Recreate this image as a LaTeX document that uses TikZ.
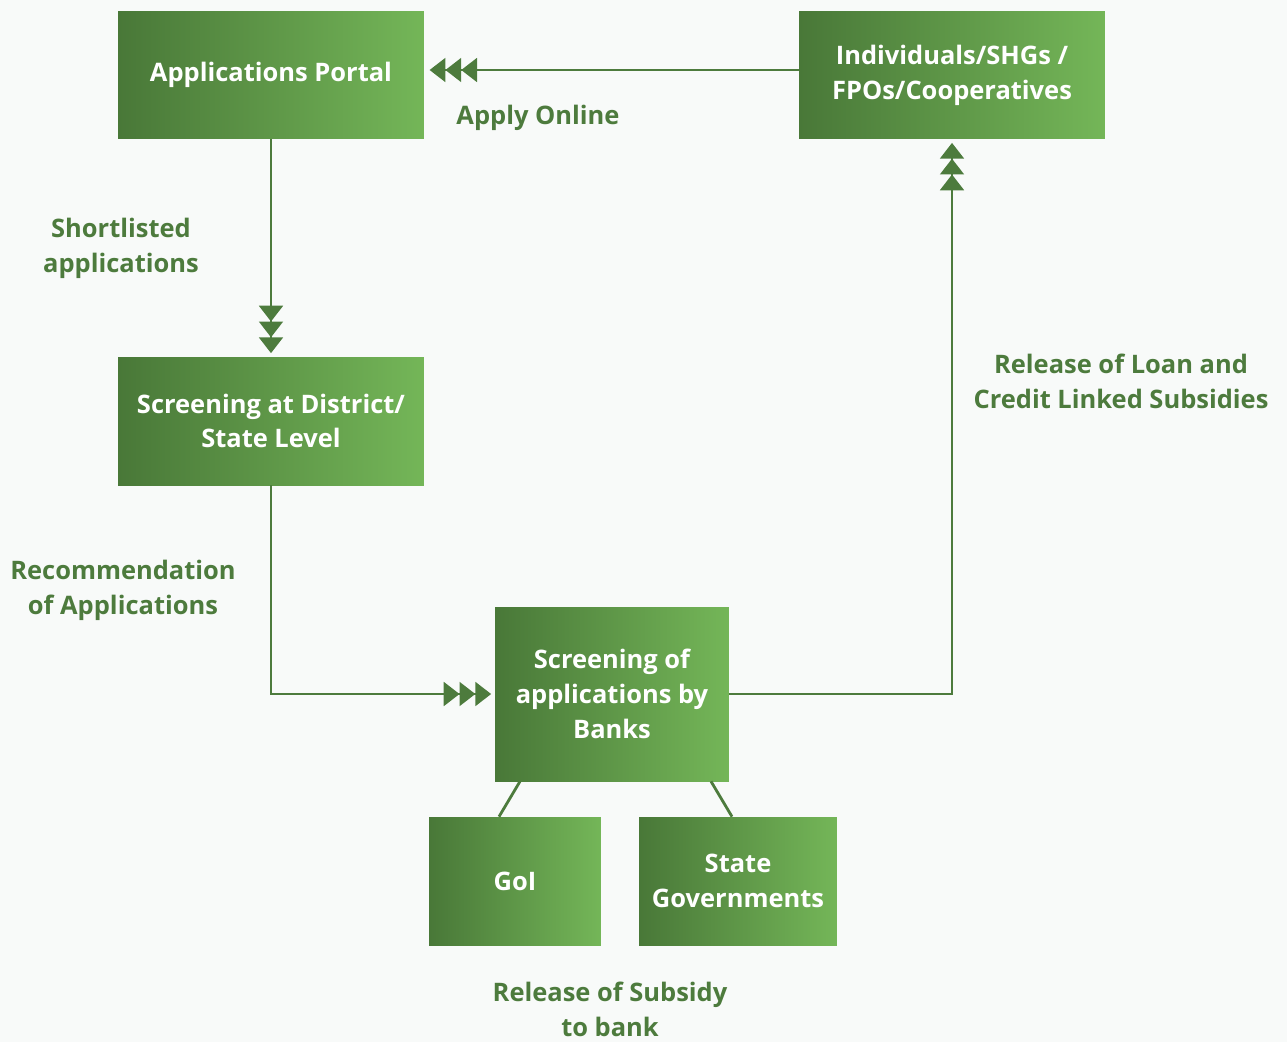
\documentclass[tikz,border=0pt]{standalone}
\usepackage{fontspec}
\setmainfont{Open Sans}
\usetikzlibrary{positioning,arrows.meta}
\definecolor{gdark}{HTML}{497838}
\definecolor{glight}{HTML}{74B658}
\definecolor{gline}{HTML}{4D7B3D}
\definecolor{bgc}{HTML}{F8FAF9}

\begin{document}
\begin{tikzpicture}[
          x=0.02cm,y=-0.02cm,
          font=\fontsize{14.5}{19.8}\selectfont\bfseries,
          box/.style={rectangle,left color=gdark,right color=glight,text=white,align=center,minimum height=2.56cm,inner sep=0pt},
          lbl/.style={text=gline,align=center},
          tri/.style={-{Triangle[length=9pt,width=13.5pt]Triangle[length=9pt,width=13.5pt]Triangle[length=9pt,width=13.5pt]}},
          flow/.style={draw=gline,line width=1.6pt,tri,shorten >=2pt},
          link/.style={draw=gline,line width=1.6pt}
            ]
    \fill[bgc] (0,0) rectangle (1287,1042);
    \useasboundingbox (0,0) rectangle (1287,1042);
    % boxes
    \node[box,minimum width=6.12cm] (portal) at (271,75) {Applications Portal};
    \node[box,minimum width=6.12cm] (indiv) at (952,75) {Individuals/SHGs /\\FPOs/Cooperatives};
    \node[box,minimum width=6.12cm] (district) at (271,421) {Screening at District/\\State Level};
    \node[box,minimum width=4.68cm,minimum height=3.48cm] (banks) at (612,694) {Screening of\\applications by\\Banks};
    \node[box,minimum width=3.44cm] (goi) at (515,881) {GoI};
    \node[box,minimum width=3.96cm] (state) at (738,881) {State\\Governments};
    % labels
    \node[lbl] (apply) at (538,118) {Apply Online};
    \node[lbl] (short) at (121,248) {Shortlisted\\applications};
    \node[lbl] (recom) at (123,590) {Recommendation\\of Applications};
    \node[lbl] (loan) at (1121,381) {Release of Loan and\\Credit Linked Subsidies};
    \node[lbl] (subsidy) at (610,1009) {Release of Subsidy\\to bank};
    % connectors
    \path[flow] ([yshift=0.1cm]indiv.west) -- ([xshift=1pt,yshift=0.1cm]portal.east);
    \path[flow] (portal.south) -- (district.north);
    \path[flow] (district.south) |- (banks.west);
    \path[flow] (banks.east) -| (indiv.south);
    \path[link] ([xshift=-1.84cm]banks.south) -- ([xshift=-0.32cm]goi.north);
    \path[link] ([xshift=1.98cm]banks.south) -- ([xshift=-0.12cm]state.north);
\end{tikzpicture}
\end{document}
